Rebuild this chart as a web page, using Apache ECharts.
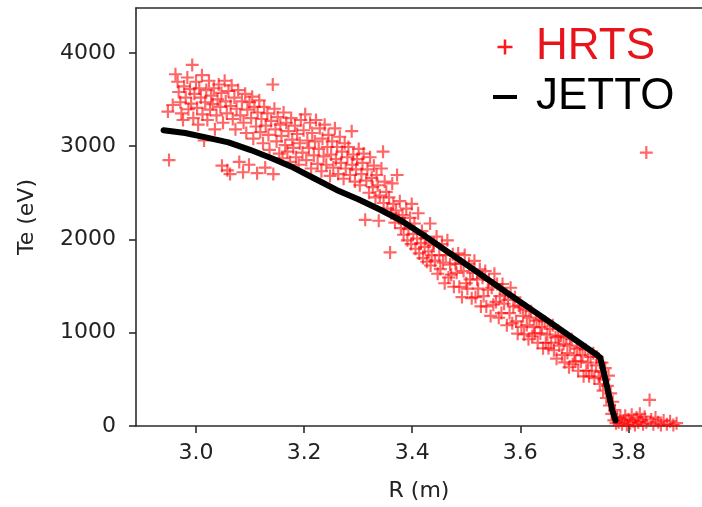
<!DOCTYPE html>
<html>
<head>
<meta charset="utf-8">
<script src="https://cdn.jsdelivr.net/npm/echarts@6/dist/echarts.min.js"></script>
<style>
html,body{margin:0;padding:0;background:#fff;}
#chart{width:702px;height:507px;}
</style>
</head>
<body>
<div id="chart"></div>
<script>
// Tick labels
var xTicks = [3.0, 3.2, 3.4, 3.6, 3.8];
var yTicks = [0, 1000, 2000, 3000, 4000];

// JETTO profile: R (m), Te (eV)
var jettoR  = [2.94, 2.98, 3.02, 3.06, 3.10, 3.14, 3.18, 3.22, 3.26, 3.30, 3.34, 3.38, 3.42, 3.46, 3.50, 3.54, 3.58, 3.62, 3.66, 3.70, 3.74, 3.748, 3.76, 3.77, 3.776];
var jettoTe = [3170, 3140, 3090, 3040, 2960, 2870, 2770, 2650, 2530, 2430, 2320, 2200, 2050, 1890, 1730, 1570, 1410, 1250, 1090, 930, 770, 730, 430, 170, 60];

// HRTS measurements: [R (m), Te (eV)]
var hrts = [
[2.948,3370],[2.950,2850],[2.957,3440],[2.962,3770],[2.966,3690],[2.968,3580],[2.971,3470],[2.973,3350],[2.976,3280],[2.978,3640],
[2.981,3520],[2.984,3735],[2.986,3395],[2.989,3610],[2.991,3455],[2.993,3870],[2.995,3300],[2.997,3560],[3.000,3690],[3.002,3410],
[3.004,3230],[3.006,3620],[3.009,3520],[3.011,3760],[3.012,3340],[3.015,3060],[3.017,3470],[3.019,3600],[3.021,3280],[3.024,3700],
[3.026,3390],[3.028,3540],[3.031,3450],[3.033,3620],[3.035,3180],[3.038,3330],[3.040,3500],[3.042,3660],[3.045,3420],[3.047,3570],
[3.048,2790],[3.050,3250],[3.053,3700],[3.055,3480],[3.057,3350],[3.058,2740],[3.060,3590],[3.063,2700],[3.064,3430],[3.066,3650],
[3.068,3290],[3.071,3520],[3.073,3180],[3.075,3400],[3.078,3600],[3.080,2830],[3.082,3330],[3.085,3480],[3.087,2720],[3.088,3250],
[3.091,3560],[3.093,3140],[3.095,3390],[3.098,2800],[3.099,3470],
[3.102,3300],[3.104,3530],[3.106,3080],[3.108,3420],[3.111,3210],[3.113,2710],[3.114,3360],[3.117,3490],[3.119,3150],[3.121,3290],
[3.124,3030],[3.126,3420],[3.128,2770],[3.129,3220],[3.132,3350],[3.134,3120],[3.136,2960],[3.139,3270],[3.142,3660],[3.143,2700],
[3.145,3400],[3.147,3180],[3.149,3050],[3.151,3310],[3.154,2920],[3.156,3230],[3.158,3110],[3.160,2870],[3.162,3360],[3.165,3010],
[3.167,3250],[3.169,2940],[3.171,3160],[3.174,2830],[3.176,3300],[3.178,3070],[3.180,2980],[3.183,3220],[3.185,2880],[3.187,3130],
[3.190,2800],[3.192,3030],[3.194,3280],[3.197,2930],[3.199,3170],
[3.202,3340],[3.204,2850],[3.206,3060],[3.209,2980],[3.211,3250],[3.213,2760],[3.215,3140],[3.218,2900],[3.220,3050],[3.222,3280],
[3.225,2810],[3.227,2970],[3.229,3190],[3.232,2730],[3.234,3080],[3.236,2890],[3.238,3230],[3.241,2800],[3.243,2990],[3.245,3120],
[3.248,2680],[3.250,2910],[3.252,3050],[3.254,2770],[3.257,3190],[3.259,2860],[3.261,2990],[3.263,2700],[3.266,3100],[3.268,2820],
[3.270,2940],[3.273,2650],[3.275,3030],[3.277,2760],[3.280,2880],[3.282,2990],[3.285,2690],[3.288,3160],[3.289,2800],[3.291,2910],
[3.294,2620],[3.296,2750],[3.298,2860],
[3.301,2970],[3.303,2580],[3.306,2700],[3.308,2820],[3.310,2920],[3.313,2210],[3.315,2630],[3.317,2750],[3.320,2500],[3.322,2880],
[3.325,2660],[3.327,2560],[3.329,2790],[3.332,2450],[3.334,2690],[3.336,2580],[3.338,2200],[3.340,2470],[3.343,2760],[3.346,2940],
[3.347,2390],[3.349,2620],[3.352,2510],[3.354,2330],[3.357,2450],[3.359,1860],[3.361,2280],[3.363,2600],[3.365,2380],[3.368,2180],
[3.370,2310],[3.372,2690],[3.375,2230],[3.377,2410],[3.379,2120],[3.382,2260],[3.384,2050],[3.386,2170],[3.389,2330],[3.391,1990],
[3.393,2110],[3.396,2230],[3.398,1950],[3.399,2380],
[3.402,2060],[3.404,2170],[3.406,1900],[3.409,2010],[3.411,2280],[3.413,1850],[3.416,1960],[3.418,2090],[3.420,1800],[3.423,1920],
[3.425,2010],[3.427,1760],[3.430,1870],[3.433,2170],[3.434,1720],[3.436,1830],[3.439,1940],
[3.440,1960],[3.442,1772],[3.445,2030],[3.447,1632],[3.450,1830],[3.452,1682],[3.455,1950],[3.457,1752],[3.460,1530],[3.462,1832],
[3.465,1990],[3.467,1592],[3.470,1730],[3.472,1622],[3.475,1840],[3.477,1492],[3.480,1740],[3.482,1642],[3.485,1850],[3.487,1492],
[3.490,1740],[3.492,1382],[3.495,1660],[3.497,1832],[3.500,1530],[3.502,1472],[3.505,1740],[3.507,1572],[3.510,1370],[3.512,1642],
[3.515,1770],[3.517,1382],[3.520,1570],[3.522,1472],[3.525,1680],[3.527,1282],[3.530,1590],[3.532,1392],[3.535,1660],[3.537,1282],
[3.540,1460],[3.542,1562],[3.545,1180],[3.547,1482],[3.550,1300],[3.552,1632],[3.555,1330],[3.557,1522],[3.560,1160],[3.562,1392],
[3.565,1210],[3.567,1522],[3.570,1310],[3.572,1412],[3.575,1080],[3.577,1352],[3.580,1210],[3.582,1482],[3.585,1100],[3.587,1282],
[3.590,1380],[3.592,1122],[3.595,990],[3.597,1292],
[3.600,1270],[3.602,1062],[3.605,1180],[3.607,982],[3.610,1250],[3.612,1082],[3.615,930],[3.617,1162],[3.620,1230],[3.622,962],
[3.625,1060],[3.627,992],[3.630,1130],[3.632,892],[3.635,1140],[3.637,992],[3.640,1060],[3.642,832],[3.645,1120],[3.647,892],
[3.650,980],[3.652,832],[3.655,1040],[3.657,892],[3.660,1080],[3.662,812],[3.665,950],[3.667,722],[3.670,960],[3.672,862],
[3.675,970],[3.677,762],[3.680,880],[3.682,682],[3.685,950],[3.687,782],[3.690,630],[3.692,862],[3.695,930],[3.697,662],
[3.700,760],[3.702,692],[3.705,830],[3.707,592],[3.710,840],[3.712,692],[3.715,760],[3.717,532],[3.720,820],[3.722,592],
[3.725,680],[3.727,532],[3.730,740],[3.732,592],[3.735,780],[3.737,512],[3.740,650],[3.742,742],[3.745,530],
[3.747,450],[3.749,580],[3.751,680],[3.753,380],[3.755,500],[3.757,620],[3.759,300],
[3.761,430],[3.763,540],[3.765,220],[3.767,350],[3.769,130],[3.771,260],[3.773,60],[3.775,170],[3.777,30],[3.779,90],
[3.782,40],[3.785,90],[3.788,20],[3.791,60],[3.794,110],[3.797,10],[3.800,70],[3.803,30],[3.806,120],[3.809,50],
[3.812,10],[3.815,90],[3.818,40],[3.821,130],[3.824,60],[3.827,20],[3.830,100],[3.833,40],[3.839,280],[3.842,70],
[3.846,20],[3.850,90],[3.855,40],[3.860,10],[3.865,60],[3.871,20],[3.877,50],[3.883,10],[3.889,30],
[3.833,2930]
];

var PLUS = 'path://M5,0h2v5h5v2h-5v5h-2v-5h-5v-2h5z';
var axisColor = '#2b2b2b';
var labelFont = 'DejaVu Sans';

var jettoData = jettoR.map(function (r, i) { return [r, jettoTe[i]]; });

var chart = echarts.init(document.getElementById('chart'), null, {renderer: 'canvas'});
chart.setOption({
  animation: false,
  backgroundColor: '#ffffff',
  grid: {left: 136, right: 0, top: 8, bottom: 80, containLabel: false},
  legend: {
    orient: 'vertical',
    left: 488,
    top: 20,
    itemWidth: 24,
    itemHeight: 15,
    itemGap: 6,
    textStyle: {fontSize: 44, fontFamily: 'Liberation Sans', padding: [0, 0, 0, 14]},
    data: [
      {name: 'HRTS', icon: PLUS, itemStyle: {color: '#ff1a1a', opacity: 1}, textStyle: {color: '#e8141c'}},
      {name: 'JETTO', icon: 'path://M0,0h24v4h-24z', itemStyle: {color: '#000'}, textStyle: {color: '#000'}}
    ]
  },
  xAxis: [{
    type: 'value',
    position: 'bottom',
    min: 2.889,
    max: 3.936,
    name: 'R (m)',
    nameLocation: 'middle',
    nameGap: 54,
    nameTextStyle: {fontSize: 22, fontFamily: labelFont, color: '#222'},
    axisLine: {show: true, onZero: false, lineStyle: {color: axisColor, width: 1.6}},
    axisTick: {show: true, length: 7, customValues: xTicks, lineStyle: {color: axisColor, width: 1.6}},
    axisLabel: {customValues: xTicks, margin: 16, fontSize: 22, fontFamily: labelFont, color: '#222',
      formatter: function (v) { return v.toFixed(1); }},
    splitLine: {show: false}
  }, {
    type: 'value',
    position: 'top',
    min: 2.889,
    max: 3.936,
    axisLine: {show: true, onZero: false, lineStyle: {color: axisColor, width: 1.6}},
    axisTick: {show: false},
    axisLabel: {show: false},
    splitLine: {show: false}
  }],
  yAxis: {
    type: 'value',
    min: 0,
    max: 4480,
    name: 'Te (eV)',
    nameLocation: 'middle',
    nameRotate: 90,
    nameGap: 98,
    nameTextStyle: {fontSize: 22, fontFamily: labelFont, color: '#222'},
    axisLine: {show: true, onZero: false, lineStyle: {color: axisColor, width: 1.6}},
    axisTick: {show: true, length: 7, customValues: yTicks, lineStyle: {color: axisColor, width: 1.6}},
    axisLabel: {customValues: yTicks, margin: 20, fontSize: 22, fontFamily: labelFont, color: '#222',
      formatter: function (v) { return String(Math.round(v)); }},
    splitLine: {show: false}
  },
  series: [{
    name: 'HRTS',
    type: 'scatter',
    xAxisIndex: 0,
    symbol: PLUS,
    symbolSize: 13,
    itemStyle: {color: '#ff0000', opacity: 0.6},
    data: hrts,
    z: 2
  }, {
    name: 'JETTO',
    type: 'line',
    xAxisIndex: 0,
    showSymbol: false,
    symbol: 'none',
    smooth: false,
    lineStyle: {color: '#000', width: 6, cap: 'round', join: 'round'},
    itemStyle: {color: '#000'},
    data: jettoData,
    z: 3
  }]
});
</script>
</body>
</html>
